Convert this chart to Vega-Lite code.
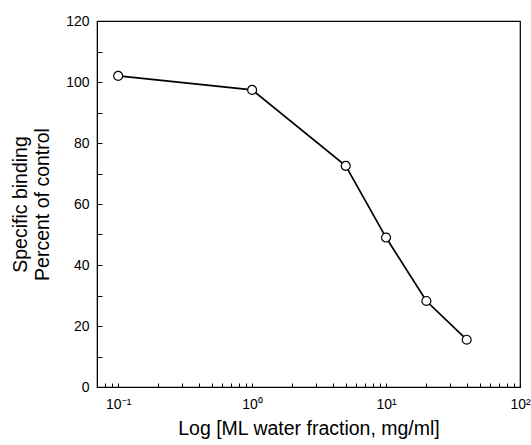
{
  "$schema": "https://vega.github.io/schema/vega-lite/v6.json",
  "autosize": {"type": "none"},
  "width": 423,
  "height": 366,
  "padding": {"left": 97, "top": 21, "right": 11, "bottom": 58},
  "background": "white",
  "config": {
    "font": "Liberation Sans",
    "view": {"stroke": "black", "strokeWidth": 1.2},
    "axis": {
      "grid": false,
      "domainColor": "black",
      "tickColor": "black",
      "labelColor": "black",
      "titleColor": "black",
      "labelFont": "Liberation Sans",
      "titleFont": "Liberation Sans",
      "labelFontSize": 14,
      "titleFontSize": 19.5,
      "titleFontWeight": "normal"
    }
  },
  "data": {
    "values": [
      {"conc": 0.1, "binding": 102},
      {"conc": 1, "binding": 97.4},
      {"conc": 5, "binding": 72.5},
      {"conc": 10, "binding": 49},
      {"conc": 20, "binding": 28.2},
      {"conc": 40, "binding": 15.5}
    ]
  },
  "encoding": {
    "x": {
      "field": "conc",
      "type": "quantitative",
      "scale": {"type": "log", "domain": [0.0695, 100], "nice": false},
      "axis": {
        "title": "Log [ML water fraction, mg/ml]",
        "titlePadding": 8,
        "values": [0.08, 0.09, 0.1, 0.2, 0.3, 0.4, 0.5, 0.6, 0.7, 0.8, 0.9, 1, 2, 3, 4, 5, 6, 7, 8, 9, 10, 20, 30, 40, 50, 60, 70, 80, 90, 100],
        "labelExpr": "datum.value == 0.1 ? '10⁻¹' : datum.value == 1 ? '10⁰' : datum.value == 10 ? '10¹' : datum.value == 100 ? '10²' : ''",
        "tickSize": -4,
        "labelPadding": 14,
        "labelFlush": false,
        "labelOverlap": false
      }
    },
    "y": {
      "field": "binding",
      "type": "quantitative",
      "scale": {"domain": [0, 120], "nice": false},
      "axis": {
        "title": ["Specific binding", "Percent of control"],
        "titlePadding": 13,
        "titleLineHeight": 22,
        "values": [0, 10, 20, 30, 40, 50, 60, 70, 80, 90, 100, 110, 120],
        "labelExpr": "datum.value % 20 == 0 ? datum.label : ''",
        "tickSize": -5,
        "labelPadding": 13,
        "labelFlush": false,
        "labelOverlap": false
      }
    }
  },
  "layer": [
    {"mark": {"type": "line", "color": "black", "strokeWidth": 1.7}},
    {"mark": {"type": "point", "shape": "circle", "filled": true, "fill": "white", "stroke": "black", "strokeWidth": 1.2, "size": 80, "opacity": 1}}
  ]
}
